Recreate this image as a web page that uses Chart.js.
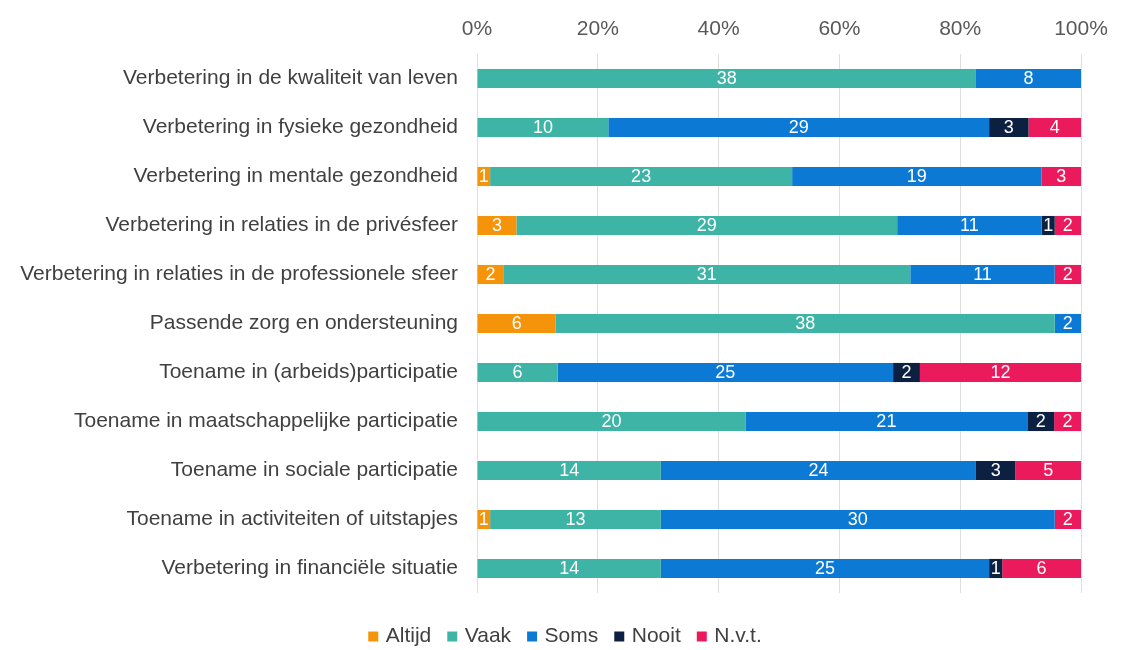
<!DOCTYPE html>
<html>
<head>
<meta charset="utf-8">
<script src="https://cdn.jsdelivr.net/npm/chart.js@4/dist/chart.umd.min.js"></script>
<style>
  html, body { margin: 0; padding: 0; background: #fff; }
  #wrap { width: 1128px; height: 650px; }
</style>
</head>
<body>
<div id="wrap"><canvas id="grafiek"></canvas></div>
<script>
const categorieen = [
    'Verbetering in de kwaliteit van leven',
    'Verbetering in fysieke gezondheid',
    'Verbetering in mentale gezondheid',
    'Verbetering in relaties in de privésfeer',
    'Verbetering in relaties in de professionele sfeer',
    'Passende zorg en ondersteuning',
    'Toename in (arbeids)participatie',
    'Toename in maatschappelijke participatie',
    'Toename in sociale participatie',
    'Toename in activiteiten of uitstapjes',
    'Verbetering in financiële situatie'
];

const altijd = [0, 0, 1, 3, 2, 6, 0, 0, 0, 1, 0];
const vaak   = [38, 10, 23, 29, 31, 38, 6, 20, 14, 13, 14];
const soms   = [8, 29, 19, 11, 11, 2, 25, 21, 24, 30, 25];
const nooit  = [0, 3, 0, 1, 0, 0, 2, 2, 3, 0, 1];
const nvt    = [0, 4, 3, 2, 2, 0, 12, 2, 5, 2, 6];

const tickLabels = ['0%', '20%', '40%', '60%', '80%', '100%'];

const reeksen = [
    { naam: 'Altijd', waarden: altijd, kleur: '#F5930A' },
    { naam: 'Vaak', waarden: vaak, kleur: '#3DB4A6' },
    { naam: 'Soms', waarden: soms, kleur: '#0C79D5' },
    { naam: 'Nooit', waarden: nooit, kleur: '#0C2142' },
    { naam: 'N.v.t.', waarden: nvt, kleur: '#EA1A5C' }
];

const lettertype = '"Liberation Sans", Arial, sans-serif';

// totaal per categorie, om naar 100% te schalen
const totalen = categorieen.map((c, i) =>
    reeksen.reduce((som, r) => som + r.waarden[i], 0));

const datasets = reeksen.map(r => ({
    label: r.naam,
    data: r.waarden.map((v, i) => v / totalen[i] * 100),
    aantallen: r.waarden,
    backgroundColor: r.kleur,
    borderWidth: 0,
    barPercentage: 0.39,
    categoryPercentage: 1
}));

// aantallen in het midden van elk segment
const waardeLabels = {
    id: 'waardeLabels',
    afterDatasetsDraw(chart) {
        const ctx = chart.ctx;
        ctx.save();
        ctx.fillStyle = '#ffffff';
        ctx.font = '18px ' + lettertype;
        ctx.textAlign = 'center';
        ctx.textBaseline = 'middle';
        chart.data.datasets.forEach((ds, di) => {
            const meta = chart.getDatasetMeta(di);
            meta.data.forEach((bar, i) => {
                const n = ds.aantallen[i];
                if (!n) return;
                const x = (bar.x + bar.base) / 2;
                ctx.fillText(String(n), x, bar.y + 1);
            });
        });
        ctx.restore();
    }
};

// legenda iets naar rechts, zoals in het origineel
const legendaSchuif = {
    id: 'legendaSchuif',
    afterLayout(chart) {
        chart.legend.left += 26;
        chart.legend.right += 26;
    }
};

new Chart(document.getElementById('grafiek'), {
    type: 'bar',
    data: { labels: categorieen, datasets: datasets },
    options: {
        indexAxis: 'y',
        responsive: true,
        maintainAspectRatio: false,
        animation: false,
        layout: { padding: { top: 0, right: 47, bottom: -7, left: 0 } },
        scales: {
            x: {
                stacked: true,
                position: 'top',
                min: 0,
                max: 100,
                ticks: {
                    stepSize: 20,
                    color: '#595959',
                    font: { family: lettertype, size: 21 },
                    padding: 12,
                    callback: (v) => tickLabels[v / 20]
                },
                grid: { color: '#dedede', drawTicks: false },
                border: { display: false },
                afterFit: (scale) => { scale.height = 54; }
            },
            y: {
                stacked: true,
                ticks: {
                    color: '#404040',
                    font: { family: lettertype, size: 21 },
                    padding: 19
                },
                grid: { display: false, drawTicks: false },
                border: { display: false },
                afterFit: (scale) => { scale.width = 477; }
            }
        },
        plugins: {
            legend: {
                position: 'bottom',
                title: {
                    display: true,
                    text: ' ',
                    font: { size: 10, lineHeight: 1 },
                    padding: { top: 0, bottom: 4 }
                },
                labels: {
                    usePointStyle: true,
                    pointStyle: 'rect',
                    boxWidth: 4,
                    boxHeight: 10,
                    padding: 19,
                    color: '#404040',
                    font: { family: lettertype, size: 21 }
                }
            },
            tooltip: { enabled: false }
        }
    },
    plugins: [waardeLabels, legendaSchuif]
});
</script>
</body>
</html>
